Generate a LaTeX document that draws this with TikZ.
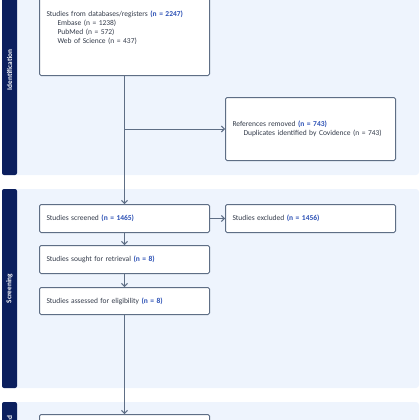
\documentclass[tikz,border=0pt]{standalone}
\usepackage{fontspec}
\setmainfont{Carlito}
\usetikzlibrary{arrows.meta}
\definecolor{panelbg}{HTML}{EEF4FD}
\definecolor{barnavy}{HTML}{0B1F5E}
\definecolor{boxline}{HTML}{5E6E85}
\definecolor{nblue}{HTML}{2B50B5}
\definecolor{txtgray}{HTML}{333B4A}
\newcommand{\nval}[1]{\textcolor{nblue}{\bfseries(n = #1)}}
\newcommand{\subline}[1]{\hspace*{11pt}#1}
\tikzset{
  phasebar/.style={fill=barnavy, rounded corners=2pt},
  phasebg/.style={fill=panelbg, rounded corners=3pt},
  phaselabel/.style={rotate=90, text=white, font=\fontsize{7.3}{8}\selectfont\bfseries},
  box/.style={draw=boxline, fill=white, line width=1pt, rounded corners=1.5pt, anchor=north west,
    minimum width=170pt, text width=156pt, align=left, inner xsep=7pt, text=txtgray,
    font=\fontsize{7.5}{9}\selectfont},
  flow/.style={draw=boxline, line width=1pt, -{Straight Barb[length=3pt,width=6pt]}},
}
\begin{document}
\begin{tikzpicture}[x=1pt, y=-1pt, line join=round]
  \useasboundingbox (0,0) rectangle (420,420);
  \clip (0,0) rectangle (420,420);
  % phase panels
  \fill[phasebg] (10,-35) rectangle (419,175);
  \fill[phasebg] (10,189) rectangle (419,388);
  \fill[phasebg] (10,402) rectangle (419,470);
  \fill[phasebar] (2,-35) rectangle (17,175);
  \fill[phasebar] (2,189) rectangle (17,388);
  \fill[phasebar] (2,402) rectangle (17,470);
  \node[phaselabel] (lid) at (9.5,70) {Identification};
  \node[phaselabel] (lscr) at (9.5,288.5) {Screening};
  \node[phaselabel, anchor=east] (linc) at (9.5,412) {Included};
  % boxes
  \node[box, minimum height=96pt] (db) at (39,-21) {Studies from databases/registers \nval{2247}\\
    \subline{Embase (n = 1238)}\\
    \subline{PubMed (n = 572)}\\
    \subline{Web of Science (n = 437)}};
  \node[box, minimum height=63pt] (refs) at (225,97) {References removed \nval{743}\\
    \subline{Duplicates identified by Covidence (n = 743)}\\[4pt]};
  \node[box, minimum height=28pt] (screened) at (39,204) {Studies screened \nval{1465}};
  \node[box, minimum height=28pt] (excluded) at (225,204) {Studies excluded \nval{1456}};
  \node[box, minimum height=28pt] (sought) at (39,245) {Studies sought for retrieval \nval{8}};
  \node[box, minimum height=27pt] (assessed) at (39,287) {Studies assessed for eligibility \nval{8}};
  \node[box, minimum height=40pt] (included) at (39,414) {};
  % connectors
  \coordinate (split) at (db.south |- refs.west);
  \draw[flow] (db) -- (screened);
  \draw[flow] (split) -- (refs);
  \draw[flow] (screened) -- (excluded);
  \draw[flow] (screened) -- (sought);
  \draw[flow] (sought) -- (assessed);
  \draw[flow] (assessed) -- (included);
\end{tikzpicture}
\end{document}
